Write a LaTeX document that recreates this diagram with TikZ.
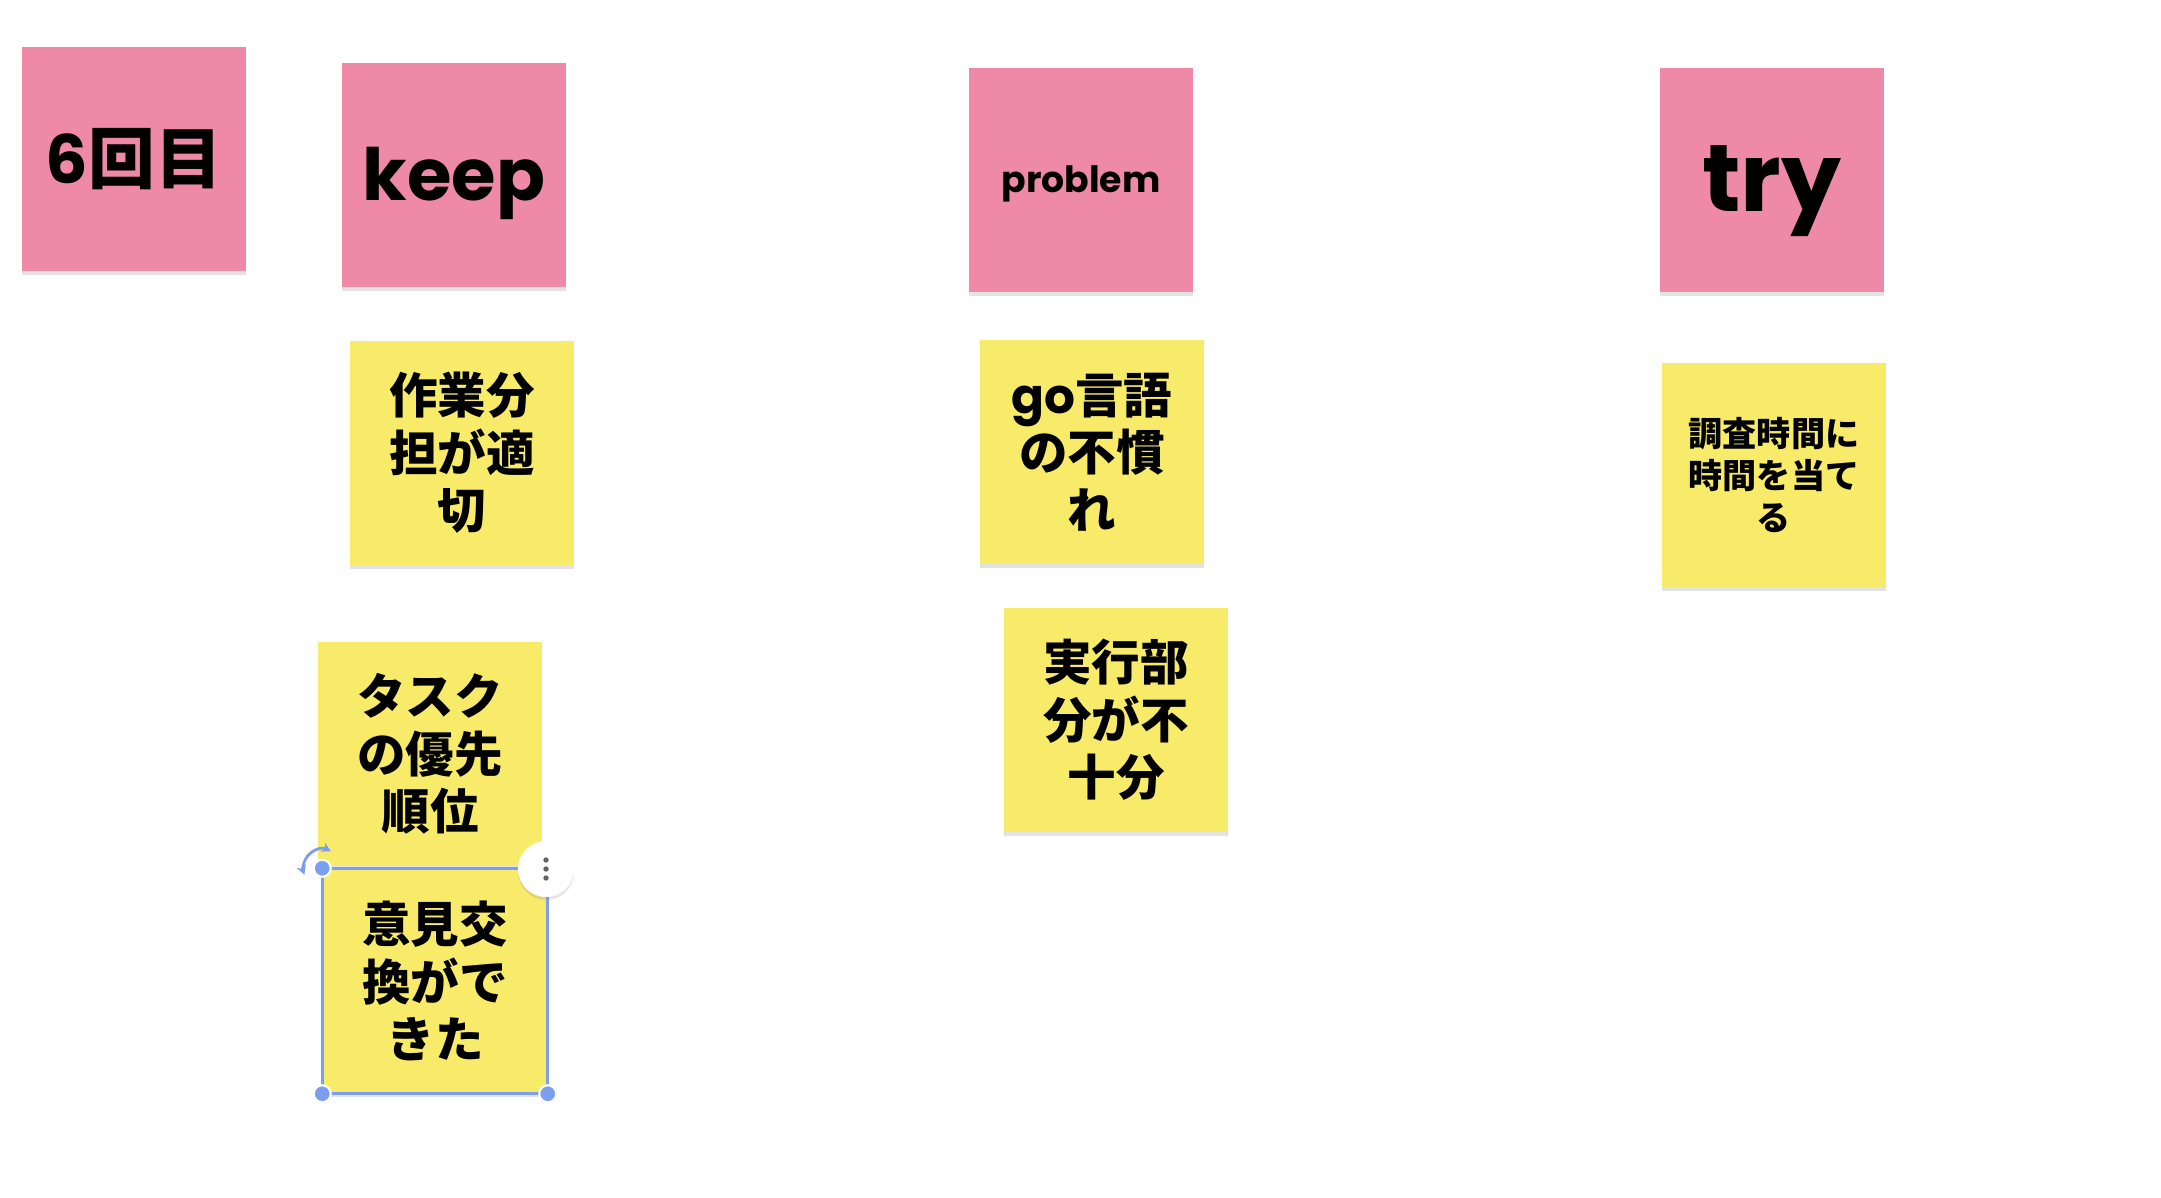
\documentclass[tikz,border=0pt]{standalone}
\usepackage{fontspec}
\newfontfamily\jpfont{Noto Sans CJK JP}
\newfontfamily\latfont{Poppins}
\usetikzlibrary{shadows,arrows.meta}
\definecolor{notepink}{HTML}{EE8AA8}
\definecolor{noteyellow}{HTML}{F8EB69}
\definecolor{selblue}{HTML}{7B9EF0}
\definecolor{dotgrey}{HTML}{5F6368}
\newcommand{\jpsize}[2]{\jpfont\bfseries\fontsize{#1}{#2}\selectfont}
\newcommand{\latsize}[1]{\latfont\bfseries\fontsize{#1}{#1}\selectfont}
\newcommand{\lowered}[2]{\raisebox{-#1}[\height][\depth]{#2}}
\tikzstyle{note}=[draw=none,rectangle,minimum width=2.24cm,minimum height=2.24cm,inner sep=0pt,align=center,drop shadow={shadow xshift=0pt,shadow yshift=-0.035cm,opacity=0.22}]
\tikzstyle{pinknote}=[note,fill=notepink]
\tikzstyle{yellownote}=[note,fill=noteyellow,font=\jpsize{13.8}{16.3}]
\tikzstyle{handle}=[circle,fill=selblue,draw=white,line width=0.6pt,minimum size=0.17cm,inner sep=0pt]

\begin{document}
\begin{tikzpicture}[x=0.01cm,y=-0.01cm]
\useasboundingbox (0,0) rectangle (2161,1198);

% header notes
\node[pinknote,font=\jpsize{19}{19}] (round) at (134,159) {{\latfont 6}回目};
\node[pinknote,font=\latsize{20.5}] (keep) at (454,175) {\lowered{0.08cm}{keep}};
\node[pinknote,font=\latsize{10.3}] (problem) at (1081,180) {\lowered{0.04cm}{problem}};
\node[pinknote,font=\latsize{27}] (try) at (1772,180) {\lowered{0.11cm}{try}};

% keep
\node[yellownote] (share) at (462,453) {作業分\\担が適\\切};
\node[yellownote] (task) at (430,754) {タスク\\の優先\\順位};
\node[yellownote] (opinion) at (435,981) {意見交\\換がで\\きた};

% problem
\node[yellownote] (golang) at (1092,452) {{\latfont go}言語\\の不慣\\れ};
\node[yellownote] (impl) at (1116,720) {実行部\\分が不\\十分};

% try
\node[yellownote,font=\jpsize{9.7}{12}] (survey) at (1774,475) {調査時間に\\時間を当て\\る};

% selection of the last note
\draw[selblue,line width=0.8pt] (opinion.north west) rectangle (opinion.south east);
\draw[selblue,line width=0.8pt,{Stealth[length=2.6pt,width=2.8pt]}-{Stealth[length=2.6pt,width=2.8pt]}]
  ([shift={(63:0.19cm)}]opinion.north west) arc[start angle=63,end angle=200,radius=0.19cm];
\node[handle] (hnw) at (opinion.north west) {};
\node[handle] (hsw) at (opinion.south west) {};
\node[handle] (hse) at (opinion.south east) {};
\node[circle,fill=white,minimum size=0.56cm,inner sep=0pt,drop shadow={shadow xshift=0pt,shadow yshift=-0.03cm,opacity=0.2}] (menu) at (546,869) {};
\foreach \d in {-9,0,9}
  \fill[dotgrey] ([yshift=\d*0.01cm]menu.center) circle (0.027cm);

\end{tikzpicture}
\end{document}
